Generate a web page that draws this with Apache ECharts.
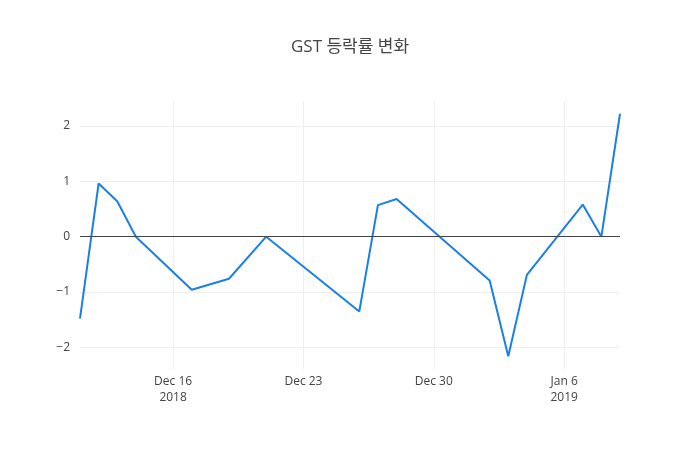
<!DOCTYPE html>
<html>
<head>
<meta charset="utf-8">
<script src="https://cdn.jsdelivr.net/npm/echarts@6/dist/echarts.min.js"></script>
<style>
  html, body { margin: 0; padding: 0; background: #fff; }
  #view { width: 700px; height: 450px; }
</style>
</head>
<body>
<div id="view"></div>
<script>
// trading days and daily change (%)
var dates = ['2018-12-11', '2018-12-12', '2018-12-13', '2018-12-14', '2018-12-17', '2018-12-19',
  '2018-12-21', '2018-12-26', '2018-12-27', '2018-12-28', '2019-01-02', '2019-01-03',
  '2019-01-04', '2019-01-07', '2019-01-08', '2019-01-09']
var changes = [-1.48, 0.96, 0.64, 0.0, -0.96, -0.76, 0.0, -1.35, 0.57, 0.68, -0.79, -2.16,
  -0.69, 0.58, 0.0, 2.22]
var xTicks = ['2018-12-16', '2018-12-23', '2018-12-30', '2019-01-06']
var yTicks = [-2, -1, 0, 1, 2]

var DAY = 86400000
var months = ['Jan', 'Feb', 'Mar', 'Apr', 'May', 'Jun', 'Jul', 'Aug', 'Sep', 'Oct', 'Nov', 'Dec']
function toTime (s) {
  var p = s.split('-')
  return Date.UTC(+p[0], +p[1] - 1, +p[2])
}
// x is counted in days from the first tick date
var base = toTime(xTicks[0])
function toDay (s) { return Math.round((toTime(s) - base) / DAY) }
var tickDays = xTicks.map(toDay)
var seriesData = dates.map(function (d, i) { return [toDay(d), changes[i]] })

var mychart = echarts.init(document.getElementById('view'))
var options = {
  animation: false,
  textStyle: { fontFamily: '"Open Sans", "Noto Sans CJK KR", sans-serif' },
  title: {
    text: 'GST 등락률 변화',
    left: 'center',
    top: 34,
    textStyle: { fontSize: 17, fontWeight: 'normal', color: '#444',
      fontFamily: '"Open Sans", "Noto Sans CJK KR", sans-serif' }
  },
  grid: { left: 80, right: 80, top: 101, bottom: 81 },
  xAxis: {
    type: 'value',
    min: toDay(dates[0]),
    max: toDay(dates[dates.length - 1]),
    axisLine: { show: false },
    axisTick: { show: false, customValues: tickDays },
    splitLine: { show: true, lineStyle: { color: '#eee', width: 1 } },
    axisLabel: {
      customValues: tickDays,
      color: '#444',
      fontSize: 12,
      lineHeight: 16,
      margin: 5,
      formatter: function (v) {
        var d = new Date(base + v * DAY)
        var txt = months[d.getUTCMonth()] + ' ' + d.getUTCDate()
        if (v === tickDays[0] || (d.getUTCMonth() === 0 && d.getUTCDate() <= 7)) {
          txt += '\n' + d.getUTCFullYear()
        }
        return txt
      }
    }
  },
  yAxis: {
    type: 'value',
    min: -2.39,
    max: 2.45,
    axisLine: { show: false },
    axisTick: { show: false, customValues: yTicks },
    splitLine: { show: true, lineStyle: { color: '#eee', width: 1 } },
    axisLabel: {
      customValues: yTicks,
      color: '#444',
      fontSize: 12,
      margin: 10,
      formatter: function (v) {
        return v < 0 ? '\u2212' + Math.abs(v) : String(v)
      }
    }
  },
  series: [{
    type: 'line',
    data: seriesData,
    showSymbol: false,
    symbol: 'none',
    lineStyle: { color: '#1a7fe8', width: 2 },
    markLine: {
      silent: true,
      symbol: 'none',
      label: { show: false },
      lineStyle: { color: '#444', width: 1, type: 'solid' },
      data: [{ yAxis: 0 }]
    },
    z: 3
  }]
}
mychart.setOption(options)
</script>
</body>
</html>
